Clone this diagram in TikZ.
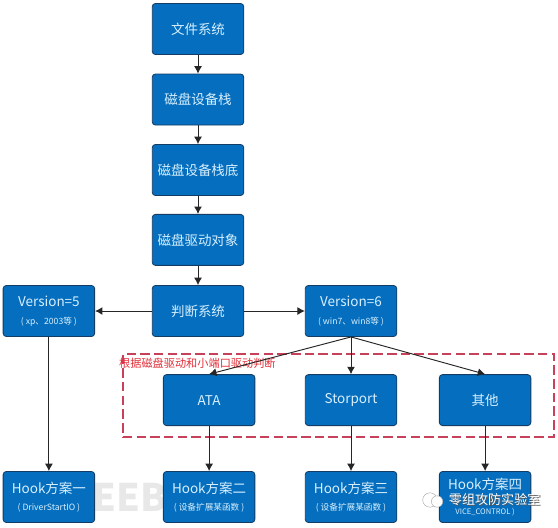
\documentclass[tikz,border=0pt]{standalone}
\usepackage{fontspec}
\setmainfont{Noto Sans CJK SC}
\usetikzlibrary{arrows.meta}
\newcommand{\minorfont}{\fontsize{8.2}{10}\selectfont}
\definecolor{boxblue}{RGB}{5,110,190}
\definecolor{boxedge}{RGB}{20,60,100}
\definecolor{boxtext}{RGB}{215,240,255}
\definecolor{judgered}{RGB}{200,65,90}
\definecolor{labelred}{RGB}{225,45,55}
\tikzset{
blockbox/.style={draw=boxedge,fill=boxblue,text=boxtext,rounded corners=3pt,line width=0.8pt,
minimum width=3.05cm,minimum height=1.7cm,align=center,font=\fontsize{12.8}{15}\selectfont},
flow/.style={draw=black!85,line width=0.9pt,-{Latex[length=7pt,width=7.5pt]}}
}
\begin{document}
\begin{tikzpicture}
\useasboundingbox (0,0) rectangle (18.6,17.567);

% Filigrane de fond
\node[text=black!9,font=\fontsize{36}{40}\bfseries\selectfont,inner sep=0pt] (freebuf) at (4.33,1.0) {EEB};

% Colonne centrale
\foreach \nm/\y/\txt in {
fs/16.6/文件系统,
stack/14.25/磁盘设备栈,
stackbase/11.9/磁盘设备栈底,
drvobj/9.57/磁盘驱动对象,
judge/7.2/判断系统%
}
{
\node[blockbox] (\nm) at (6.6,\y) {\txt};
}

\node[blockbox] (ver5) at (1.63,7.2) {Version=5\\[2pt]{\minorfont ( xp、2003等 )}};
\node[blockbox] (ver6) at (11.7,7.2) {Version=6\\[2pt]{\minorfont ( win7、win8等 )}};

% Zone rouge
\node[draw=judgered,dash pattern=on 9pt off 4pt,line width=1.3pt,
minimum width=14.37cm,minimum height=2.77cm] (zone) at (11.28,4.38) {};
\node[text=labelred,font=\fontsize{10.6}{12}\selectfont,inner sep=0pt] (zonelabel) at (6.58,5.47) {根据磁盘驱动和小端口驱动判断};

\foreach \nm/\x/\txt in {
ata/6.97/ATA,
storport/11.7/Storport,
other/16.17/其他%
}
{
\node[blockbox] (\nm) at (\x,4.23) {\txt};
}

% Rangee du bas
\node[blockbox] (hook1) at (1.63,1.0) {Hook方案一\\[1pt]{\minorfont ( DriverStartIO )}};
\node[blockbox] (hook2) at (6.97,1.0) {Hook方案二\\[1pt]{\minorfont ( 设备扩展某函数 )}};
\node[blockbox] (hook3) at (11.7,1.0) {Hook方案三\\[1pt]{\minorfont ( 设备扩展某函数 )}};
\node[blockbox] (hook4) at (16.17,1.0) {Hook方案四\\[9pt]{\fontsize{7.2}{9}\selectfont VICE\_CONTROL )}};

% Liaisons
\foreach \a/\b in {
fs/stack,stack/stackbase,stackbase/drvobj,drvobj/judge,
judge/ver5,judge/ver6,
ver5/hook1,ata/hook2,storport/hook3,other/hook4,
ver6/storport%
}
{
\draw[flow] (\a) -- (\b);
}
\draw[flow] (ver6.south) -- (ata.north);
\draw[flow] (ver6.south) -- (other.north);

% Filigrane WeChat
\coordinate (wmc) at (14.33,0.9);
\draw[black!35,fill=white] (wmc) circle (0.24);
\draw[black!35,fill=white] ([shift={(0.24,-0.05)}]wmc) circle (0.19);
\node[text=black!65,font=\fontsize{12.4}{14}\selectfont] (wmshadow) at (16.52,0.88) {零组攻防实验室};
\node[text=white,font=\fontsize{12.4}{14}\selectfont] (wmtext) at (16.49,0.91) {零组攻防实验室};

\end{tikzpicture}
\end{document}
